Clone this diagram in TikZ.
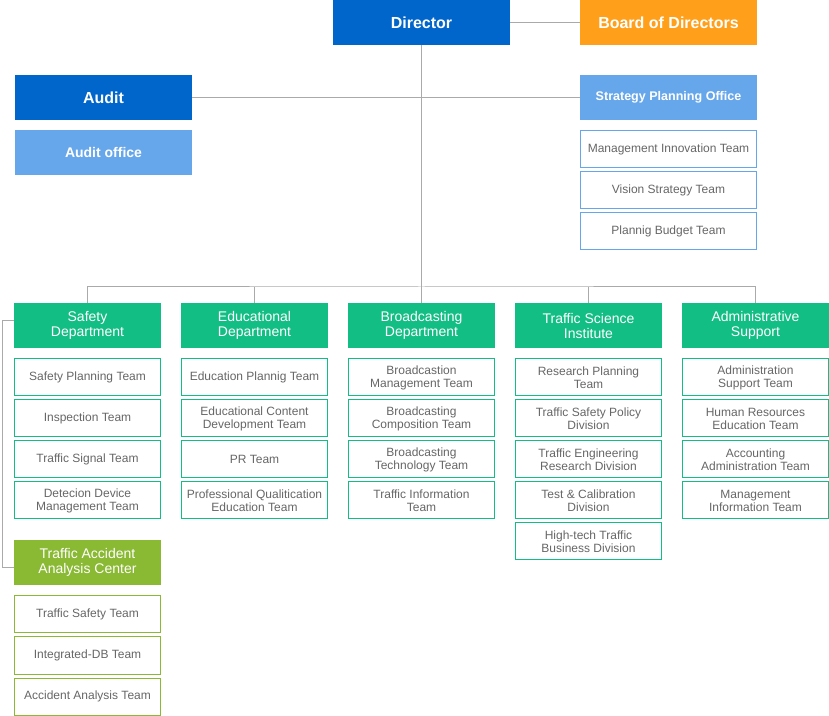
\documentclass[tikz,border=0pt]{standalone}
\usepackage{fontspec}
\setmainfont{Liberation Sans}
\usepackage{tikz}
\usetikzlibrary{positioning}
\definecolor{topblue}{HTML}{0066CC}
\definecolor{lightblue}{HTML}{66A6EA}
\definecolor{boardorange}{HTML}{FF9F1A}
\definecolor{deptgreen}{HTML}{13BE84}
\definecolor{centergreen}{HTML}{8AB933}
\definecolor{textgray}{HTML}{666666}
\definecolor{linegray}{HTML}{AAAAAA}

\begin{document}
\begin{tikzpicture}[
    x=0.75pt, y=-0.75pt,
    node distance=3pt,
    head/.style={fill=topblue, text=white, minimum width=132.75pt, minimum height=33.75pt, inner sep=1pt, outer sep=0pt, align=center, font=\bfseries\fontsize{12}{14}\selectfont},
    office/.style={fill=lightblue, text=white, minimum width=132.75pt, minimum height=33.75pt, inner sep=1pt, outer sep=0pt, align=center, font=\bfseries\fontsize{9.4}{11}\selectfont},
    dept/.style={fill=deptgreen, text=white, minimum width=110.25pt, minimum height=33.75pt, inner sep=1pt, outer sep=0pt, align=center, font=\fontsize{10.5}{11.25}\selectfont},
    team/.style={draw=deptgreen, line width=0.75pt, text=textgray, minimum width=109.5pt, minimum height=27.75pt, inner sep=1pt, outer sep=0pt, align=center, font=\fontsize{9}{9.75}\selectfont},
    blueteam/.style={team, draw=lightblue, minimum width=132pt},
    accteam/.style={team, draw=centergreen},
    link/.style={draw=linegray, line width=0.75pt}
]
    \useasboundingbox (0,0) rectangle (829,716);

    % Top level
    \node[head] (director) at (421.5,22.5) {Director};
    \node[head, fill=boardorange] (board) at (668.5,22.5) {Board of Directors};
    \node[head] (audit) at (103.5,97.5) {Audit};
    \node[office, font=\bfseries\fontsize{10.5}{12}\selectfont] (auditoffice) at (103.5,152.5) {Audit office};
    \node[office] (strategy) at (668.5,97.5) {Strategy Planning Office};
    \node[blueteam, below=8.25pt of strategy] (innovation) {Management Innovation Team};
    \node[blueteam, below=of innovation] (vision) {Vision Strategy Team};
    \node[blueteam, below=of vision] (budget) {Plannig Budget Team};

    % Departments
    \node[dept] (safety) at (87.5,325.5) {Safety\\Department};
    \node[dept] (education) at (254.5,325.5) {Educational\\Department};
    \node[dept] (broadcast) at (421.5,325.5) {Broadcasting\\Department};
    \node[dept] (science) at (588.5,325.5) {Traffic Science\\Institute};
    \node[dept] (admin) at (755.5,325.5) {Administrative\\Support};
    \node[dept, fill=centergreen] (accident) at (87.5,562.5) {Traffic Accident\\Analysis Center};

    % Safety teams
    \node[team, below=8.25pt of safety] (safetyplan) {Safety Planning Team};
    \node[team, below=of safetyplan] (inspection) {Inspection Team};
    \node[team, below=of inspection] (signal) {Traffic Signal Team};
    \node[team, below=of signal] (detection) {Detecion Device\\Management Team};

    % Educational teams
    \node[team, below=8.25pt of education] (eduplan) {Education Plannig Team};
    \node[team, below=of eduplan] (content) {Educational Content\\Development Team};
    \node[team, below=of content] (pr) {PR Team};
    \node[team, below=of pr] (qualification) {Professional Qualitication\\Education Team};

    % Broadcasting teams
    \node[team, below=8.25pt of broadcast] (bmanage) {Broadcastion\\Management Team};
    \node[team, below=of bmanage] (composition) {Broadcasting\\Composition Team};
    \node[team, below=of composition] (technology) {Broadcasting\\Technology Team};
    \node[team, below=of technology] (information) {Traffic Information\\Team};

    % Traffic Science teams
    \node[team, below=8.25pt of science] (research) {Research Planning\\Team};
    \node[team, below=of research] (policy) {Traffic Safety Policy\\Division};
    \node[team, below=of policy] (engineering) {Traffic Engineering\\Research Division};
    \node[team, below=of engineering] (calibration) {Test \& Calibration\\Division};
    \node[team, below=of calibration] (hightech) {High-tech Traffic\\Business Division};

    % Administrative teams
    \node[team, below=8.25pt of admin] (adminsupport) {Administration\\Support Team};
    \node[team, below=of adminsupport] (hr) {Human Resources\\Education Team};
    \node[team, below=of hr] (accounting) {Accounting\\Administration Team};
    \node[team, below=of accounting] (mis) {Management\\Information Team};

    % Accident center teams
    \node[accteam, below=8.25pt of accident] (trafficsafety) {Traffic Safety Team};
    \node[accteam, below=of trafficsafety] (integrated) {Integrated-DB Team};
    \node[accteam, below=of integrated] (analysis) {Accident Analysis Team};

    % Connectors
    \coordinate (bus) at (421.5,287);
    \draw[link] (director.east) -- (board.west);
    \draw[link] (audit.east) -- (strategy.west);
    \draw[link] (director.south) -- (bus);
    \draw[link] (safety.north) |- (bus) -| (admin.north);
    \draw[link] (education.north) -- (education.north |- bus);
    \draw[link] (broadcast.north) -- (bus);
    \draw[link] (science.north) -- (science.north |- bus);
    \draw[link] ([yshift=3.75pt]safety.west) -- ++(-9pt,0) |- ([yshift=-3.4pt]accident.west);
\end{tikzpicture}
\end{document}
